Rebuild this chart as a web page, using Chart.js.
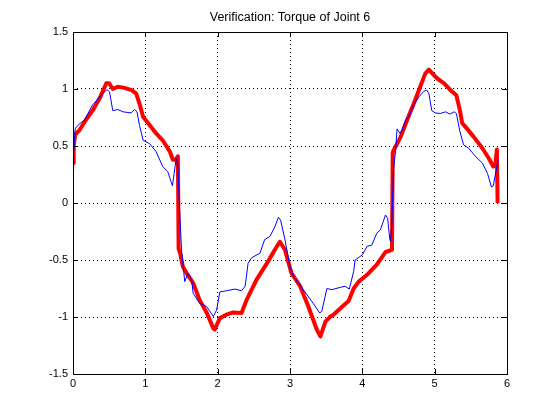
<!DOCTYPE html>
<html>
<head>
<meta charset="utf-8">
<script src="https://cdn.jsdelivr.net/npm/chart.js@4.4.0/dist/chart.umd.min.js"></script>
<style>
html,body{margin:0;padding:0;background:#fff;}
#wrap{width:560px;height:420px;}
</style>
</head>
<body>
<div id="wrap"><canvas id="c" width="560" height="420"></canvas></div>
<script>
const chartTitle = "Verification: Torque of Joint 6";
const xTickValues = [0, 1, 2, 3, 4, 5, 6];
const yTickValues = [-1.5, -1, -0.5, 0, 0.5, 1, 1.5];

const blueX = [0,0.02,0.03,0.065,0.16,0.27,0.41,0.47,0.505,0.55,0.62,0.69,0.805,0.85,0.885,0.92,0.97,1.06,1.15,1.24,1.31,1.375,1.42,1.43,1.45,1.47,1.50,1.545,1.59,1.64,1.66,1.75,1.85,1.94,1.985,2.03,2.12,2.24,2.33,2.38,2.42,2.47,2.585,2.65,2.72,2.79,2.84,2.87,2.93,3.0,3.05,3.14,3.23,3.32,3.41,3.44,3.51,3.58,3.695,3.76,3.82,3.88,3.90,4.0,4.065,4.13,4.20,4.25,4.32,4.35,4.38,4.39,4.41,4.43,4.46,4.48,4.52,4.55,4.60,4.64,4.71,4.78,4.85,4.89,4.92,4.96,5.01,5.08,5.15,5.21,5.27,5.30,5.35,5.40,5.47,5.57,5.66,5.73,5.785,5.81,5.86,5.88];
const blueY = [0.38,0.55,0.65,0.68,0.73,0.86,0.96,0.995,0.975,0.81,0.82,0.80,0.79,0.82,0.80,0.68,0.55,0.52,0.45,0.32,0.275,0.15,0.36,0.39,0.33,0.0,-0.41,-0.69,-0.615,-0.67,-0.79,-0.88,-0.91,-0.995,-0.94,-0.78,-0.77,-0.755,-0.77,-0.73,-0.53,-0.48,-0.44,-0.32,-0.295,-0.21,-0.125,-0.15,-0.32,-0.56,-0.645,-0.72,-0.80,-0.88,-0.965,-0.95,-0.75,-0.76,-0.74,-0.73,-0.755,-0.60,-0.50,-0.455,-0.38,-0.37,-0.265,-0.235,-0.105,-0.135,-0.32,-0.34,-0.15,0.29,0.46,0.65,0.61,0.64,0.73,0.755,0.86,0.93,0.98,0.99,0.96,0.81,0.79,0.785,0.80,0.78,0.80,0.785,0.625,0.51,0.48,0.405,0.35,0.26,0.14,0.15,0.32,0.375];

const redX = [0,0.01,0.03,0.09,0.18,0.27,0.37,0.46,0.5,0.55,0.62,0.71,0.81,0.875,0.92,0.97,1.04,1.15,1.24,1.34,1.38,1.42,1.45,1.46,1.48,1.52,1.57,1.66,1.75,1.85,1.94,1.96,2.03,2.12,2.215,2.33,2.40,2.54,2.68,2.79,2.86,2.93,3.02,3.14,3.255,3.37,3.42,3.49,3.56,3.60,3.72,3.81,3.88,3.95,4.065,4.20,4.32,4.41,4.42,4.43,4.53,4.62,4.71,4.80,4.87,4.92,4.97,5.04,5.13,5.22,5.30,5.35,5.38,5.45,5.54,5.66,5.75,5.81,5.84,5.86,5.87];
const redY = [0.35,0.5,0.6,0.64,0.73,0.81,0.92,1.05,1.05,1.0,1.02,1.01,0.99,0.96,0.87,0.755,0.70,0.61,0.55,0.45,0.38,0.38,0.41,-0.40,-0.44,-0.56,-0.615,-0.70,-0.85,-0.965,-1.10,-1.11,-1.01,-0.98,-0.96,-0.965,-0.85,-0.67,-0.53,-0.41,-0.34,-0.41,-0.615,-0.73,-0.91,-1.11,-1.17,-1.04,-0.995,-0.98,-0.91,-0.86,-0.75,-0.69,-0.63,-0.54,-0.43,-0.41,0.44,0.46,0.58,0.73,0.87,1.02,1.135,1.17,1.135,1.09,1.05,0.99,0.945,0.81,0.70,0.65,0.58,0.48,0.39,0.32,0.34,0.47,0.0];

function zip(xs, ys){ return xs.map((x,i)=>({x:x, y:ys[i]})); }

const FONT_FAMILY = "'Liberation Sans', Arial, Helvetica, sans-serif";
const FONT = {family: FONT_FAMILY, size: 11};

// axes box, inward tick marks on all four sides, and title centred over the axes
const boxTicks = {
  id: 'boxTicks',
  afterDatasetsDraw(chart){
    const {ctx, chartArea:a, scales} = chart;
    ctx.save();
    ctx.strokeStyle = '#000';
    ctx.lineWidth = 1;
    ctx.setLineDash([]);
    const L = 5;
    ctx.beginPath();
    scales.x.ticks.forEach(t=>{
      const px = Math.round(scales.x.getPixelForValue(t.value)) + 0.5;
      ctx.moveTo(px, a.bottom); ctx.lineTo(px, a.bottom - L);
      ctx.moveTo(px, a.top); ctx.lineTo(px, a.top + L);
    });
    scales.y.ticks.forEach(t=>{
      const py = Math.round(scales.y.getPixelForValue(t.value)) + 0.5;
      ctx.moveTo(a.left, py); ctx.lineTo(a.left + L, py);
      ctx.moveTo(a.right, py); ctx.lineTo(a.right - L, py);
    });
    ctx.stroke();
    ctx.strokeRect(Math.round(a.left)+0.5, Math.round(a.top)+0.5, Math.round(a.right-a.left), Math.round(a.bottom-a.top));
    ctx.fillStyle = '#000';
    ctx.font = '12.5px ' + FONT_FAMILY;
    ctx.textAlign = 'center';
    ctx.textBaseline = 'alphabetic';
    ctx.fillText(chartTitle, (a.left + a.right)/2, 21);
    ctx.restore();
  }
};

new Chart(document.getElementById('c'), {
  type: 'line',
  data: {
    datasets: [
      {label:'measured', data: zip(blueX, blueY), borderColor:'#0000FF', borderWidth:1, pointRadius:0, tension:0, fill:false, order:0},
      {label:'model', data: zip(redX, redY), borderColor:'#FF0000', borderWidth:4, pointRadius:0, tension:0, fill:false, order:1, borderJoinStyle:'round', borderCapStyle:'butt'}
    ]
  },
  options: {
    responsive: false,
    animation: false,
    devicePixelRatio: 1,
    layout: {padding: {left:0, right:53, top:32, bottom:0}},
    plugins: {
      legend: {display:false},
      tooltip: {enabled:false},
      title: {display:false}
    },
    scales: {
      x: {
        type:'linear', min:0, max:6,
        afterBuildTicks(s){ s.ticks = xTickValues.map(v=>({value:v})); },
        afterFit(s){ s.height = 46; },
        ticks: {color:'#000', font:FONT, padding:3, maxRotation:0, autoSkip:false, callback:(v)=>String(v)},
        grid: {color:'#000', lineWidth:1, drawTicks:false},
        border: {display:false, dash:[1,3]}
      },
      y: {
        type:'linear', min:-1.5, max:1.5,
        afterBuildTicks(s){ s.ticks = yTickValues.map(v=>({value:v})); },
        afterFit(s){ s.width = 73; },
        ticks: {color:'#000', font:FONT, padding:5, autoSkip:false, callback:(v)=>String(v)},
        grid: {color:'#000', lineWidth:1, drawTicks:false},
        border: {display:false, dash:[1,3]}
      }
    }
  },
  plugins: [boxTicks]
});
</script>
</body>
</html>
